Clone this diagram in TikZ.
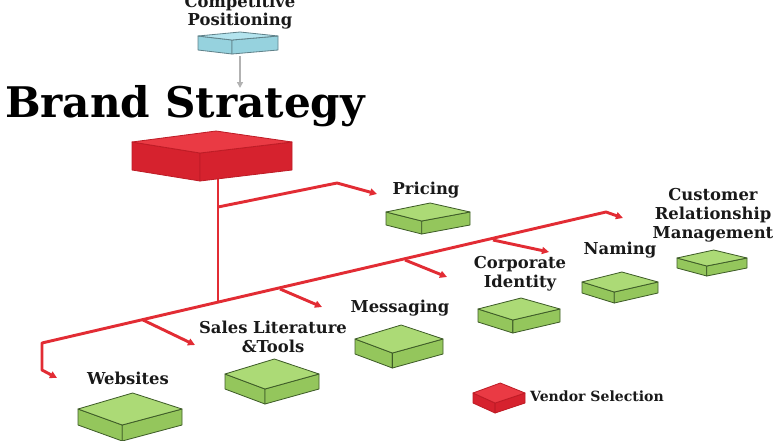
\documentclass[tikz,border=0pt]{standalone}
\usepackage{fontspec}
\setmainfont{DejaVu Serif}
\usetikzlibrary{arrows.meta}

\definecolor{linered}{RGB}{226,44,52}
\definecolor{slabred}{RGB}{214,34,46}
\definecolor{slabredtop}{RGB}{234,58,68}
\definecolor{slabrededge}{RGB}{190,28,38}
\definecolor{slabgreen}{RGB}{148,198,92}
\definecolor{slabgreentop}{RGB}{172,218,118}
\definecolor{slabgreenedge}{RGB}{62,92,40}
\definecolor{slabblue}{RGB}{150,210,222}
\definecolor{slabbluetop}{RGB}{180,228,238}
\definecolor{slabblueedge}{RGB}{96,130,138}

\tikzset{
  boxtext/.style={font=\bfseries\fontsize{14}{16}\selectfont, align=center, text=black!90},
  titletext/.style={font=\bfseries\fontsize{36}{40}\selectfont},
  redwire/.style={line width=2.5pt, color=linered, line join=round},
  redline/.style={redwire, -{Triangle[length=6pt,width=6pt]}},
  mainline/.style={redwire, {Triangle[length=6pt,width=6pt]}-{Triangle[length=6pt,width=6pt]}},
  grayarrow/.style={line width=1.3pt, color=black!30, -{Triangle[length=5pt,width=5pt]}},
}

% slab: name, cx, cy, half width, half depth of top, height, colour
\newcommand{\slab}[7]{
    \coordinate (#1-l) at (#2-#4,#3);
    \coordinate (#1-r) at (#2+#4,#3);
    \coordinate (#1-t) at (#2+0.05*#4,#3-#5);
    \coordinate (#1-f) at (#2-0.15*#4,#3+#5);
    \coordinate (#1-lb) at (#2-#4,#3+#6);
    \coordinate (#1-rb) at (#2+#4,#3+#6);
    \coordinate (#1-fb) at (#2-0.15*#4,#3+#5+#6);

    \filldraw[fill=#7, draw=#7edge, line width=0.7pt, line join=round] (#1-l) -- (#1-f) -- (#1-fb) -- (#1-lb) -- cycle;
    \filldraw[fill=#7, draw=#7edge, line width=0.7pt, line join=round] (#1-f) -- (#1-r) -- (#1-rb) -- (#1-fb) -- cycle;
    \filldraw[fill=#7top, draw=#7edge, line width=0.7pt, line join=round] (#1-l) -- (#1-t) -- (#1-r) -- (#1-f) -- cycle;
}

\begin{document}
\begin{tikzpicture}[x=0.03cm, y=-0.03cm]
    \useasboundingbox (0,0) rectangle (780,440);

    % trunk and the branch to pricing
    \coordinate (trunk-top) at (218,175);
    \coordinate (j0) at (218,303);
    \coordinate (fork-p) at (218,207);
    \coordinate (bend-p) at (337,183);
    \coordinate (tip-p) at (377,194);
    \draw[redwire] (trunk-top) -- (j0);
    \draw[redline] (fork-p) -- (bend-p) -- (tip-p);

    % main line
    \coordinate (tip-w) at (57,378);
    \coordinate (m-lb) at (42,370);
    \coordinate (m-l) at (42,343);
    \coordinate (m-r) at (606,212);
    \coordinate (tip-c) at (623,218);
    \draw[mainline] (tip-w) -- (m-lb) -- (m-l) -- (m-r) -- (tip-c);

    \coordinate (b1) at (143,320);  \coordinate (t1) at (195,345);
    \coordinate (b2) at (280,289);  \coordinate (t2) at (322,307);
    \coordinate (b3) at (405,260);  \coordinate (t3) at (447,277);
    \coordinate (b4) at (493,240);  \coordinate (t4) at (549,252);
    \foreach \s/\e in {b1/t1, b2/t2, b3/t3, b4/t4}
        \draw[redline] (\s) -- (\e);

    % slabs
    \slab{cp}{238}{36}{40}{4}{14}{slabblue}
    \slab{bs}{212}{142}{80}{11}{28}{slabred}
    \slab{pr}{428}{212}{42}{9}{13}{slabgreen}
    \slab{ws}{130}{409}{52}{16}{16}{slabgreen}
    \slab{sl}{272}{374}{47}{15}{15}{slabgreen}
    \slab{ms}{399}{339}{44}{14}{15}{slabgreen}
    \slab{ci}{519}{309}{41}{11}{13}{slabgreen}
    \slab{nm}{620}{282}{38}{10}{11}{slabgreen}
    \slab{cr}{712}{258}{35}{8}{10}{slabgreen}
    \slab{vs}{499}{393}{26}{10}{10}{slabred}

    \coordinate (cp-out) at (240,56);
    \coordinate (bs-in) at (240,88);
    \draw[grayarrow] (cp-out) -- (bs-in);

    % labels
    \node[boxtext] (lbl-cp) at (240,12) {Competitive\\Positioning};
    \node[titletext] (lbl-bs) at (185,106) {Brand Strategy};
    \node[boxtext] (lbl-pr) at (426,190) {Pricing};
    \node[boxtext] (lbl-ws) at (128,378) {Websites};
    \node[boxtext] (lbl-sl) at (273,337) {Sales Literature\\\&Tools};
    \node[boxtext] (lbl-ms) at (400,308) {Messaging};
    \node[boxtext] (lbl-ci) at (520,274) {Corporate\\Identity};
    \node[boxtext] (lbl-nm) at (620,250) {Naming};
    \node[boxtext] (lbl-cr) at (713,215) {Customer\\Relationship\\Management};
    \node[boxtext, font=\bfseries\fontsize{12}{14}\selectfont, anchor=west] (lbl-vs) at (526,396) {Vendor Selection};
\end{tikzpicture}
\end{document}
